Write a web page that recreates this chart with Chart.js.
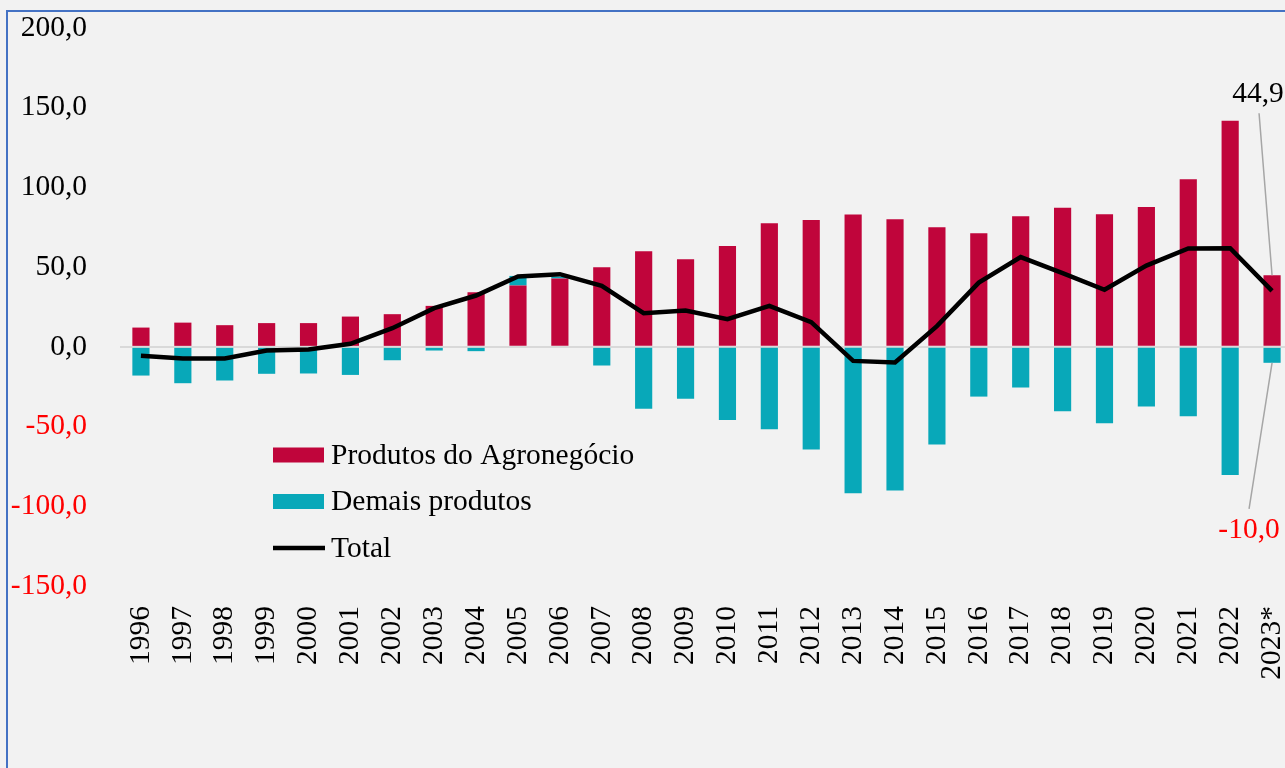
<!DOCTYPE html>
<html>
<head>
<meta charset="utf-8">
<script src="https://cdn.jsdelivr.net/npm/chart.js@4/dist/chart.umd.min.js"></script>
<style>
  html, body { margin: 0; padding: 0; background: #f2f2f2; overflow: hidden; }
  #frame { position: absolute; left: 6px; top: 10px; width: 1400px; height: 900px; border: 2px solid #4472c4; }
  #wrap { position: absolute; left: 0; top: 0; width: 1300px; height: 768px; }
</style>
</head>
<body>
<div id="frame"></div>
<div id="wrap"><canvas id="chart" width="1300" height="768"></canvas></div>
<script>
const years = ['1996','1997','1998','1999','2000','2001','2002','2003','2004','2005','2006','2007','2008','2009',
  '2010','2011','2012','2013','2014','2015','2016','2017','2018','2019','2020','2021','2022','2023*'];
const agro = [12.1,15.2,13.6,14.9,14.9,19.0,20.5,25.7,34.3,38.5,42.9,50.0,60.0,55.0,
  63.2,77.6,79.5,83.0,80.1,75.1,71.3,82.0,87.2,83.2,87.8,105.2,141.8,44.9];
const demais = [-18.0,-22.8,-21.1,-16.9,-16.7,-17.6,-8.4,-2.3,-2.7,6.0,1.2,-11.7,-38.9,-32.6,
  -45.8,-51.7,-64.4,-91.8,-90.1,-61.3,-31.2,-25.5,-40.4,-47.9,-37.4,-43.5,-80.3,-10.0];
const total = [-5.6,-7.3,-7.3,-2.3,-1.7,1.9,11.7,24.3,32.2,44.1,45.6,38.3,21.1,22.8,
  17.4,25.7,15.5,-8.8,-9.8,13.0,40.3,56.3,46.2,35.8,51.0,61.7,61.9,35.1];
const yTicks = [-150, -100, -50, 0, 50, 100, 150, 200];

const FONT = '"Liberation Serif", "DejaVu Serif", serif';
const SIZE = 29.5;
const fmt = v => v.toFixed(1).replace('.', ',');

// legend drawn inside the plot area
const innerLegend = {
  id: 'innerLegend',
  afterDraw(chart) {
    const ctx = chart.ctx;
    ctx.save();
    ctx.font = SIZE + 'px ' + FONT;
    ctx.textBaseline = 'middle';
    chart.data.datasets.forEach((ds, i) => {
      const y = 455 + i * 46.5;
      if (ds.type === 'line') {
        ctx.strokeStyle = ds.borderColor;
        ctx.lineWidth = 4.5;
        ctx.beginPath();
        ctx.moveTo(273, y);
        ctx.lineTo(325, y);
        ctx.stroke();
      } else {
        ctx.fillStyle = ds.backgroundColor;
        ctx.fillRect(273, y - 7.5, 51, 15);
      }
      ctx.fillStyle = '#000';
      ctx.fillText(ds.label, 331, y + 1);
    });
    ctx.restore();
  }
};

// callouts for the last year
const lastLabels = {
  id: 'lastLabels',
  afterDatasetsDraw(chart) {
    const ctx = chart.ctx;
    const last = years.length - 1;
    const red = chart.getDatasetMeta(0).data[last];
    const cyan = chart.getDatasetMeta(1).data[last];
    ctx.save();
    ctx.strokeStyle = '#a6a6a6';
    ctx.lineWidth = 1.5;
    ctx.beginPath();
    ctx.moveTo(red.x - 13, red.y - 162);
    ctx.lineTo(red.x, red.y);
    ctx.moveTo(cyan.x - 23, cyan.y + 146);
    ctx.lineTo(cyan.x, cyan.y);
    ctx.stroke();
    ctx.font = SIZE + 'px ' + FONT;
    ctx.textAlign = 'center';
    ctx.textBaseline = 'middle';
    ctx.fillStyle = '#000';
    ctx.fillText(fmt(agro[last]), red.x - 14, red.y - 181);
    ctx.fillStyle = '#ff0000';
    ctx.fillText(fmt(demais[last]), cyan.x - 23, cyan.y + 167);
    ctx.restore();
  }
};

function noPad(scale) {
  scale.paddingTop = 0;
  scale.paddingBottom = 0;
  scale.paddingLeft = 0;
  scale.paddingRight = 0;
}

new Chart(document.getElementById('chart'), {
  data: {
    labels: years,
    datasets: [
      { type: 'bar', label: 'Produtos do Agronegócio', data: agro, backgroundColor: '#c0053b',
        stack: 'bars', order: 1, barPercentage: 0.41, categoryPercentage: 1 },
      { type: 'bar', label: 'Demais produtos', data: demais, backgroundColor: '#08a8b9',
        stack: 'bars', order: 2, barPercentage: 0.41, categoryPercentage: 1 },
      { type: 'line', label: 'Total', data: total, borderColor: '#000000', borderWidth: 4.5,
        pointRadius: 0, tension: 0, stack: 'line', order: 0 }
    ]
  },
  options: {
    responsive: false,
    animation: false,
    layout: { padding: { top: 28, right: 7, bottom: 0, left: 0 } },
    plugins: { legend: { display: false }, tooltip: { enabled: false } },
    scales: {
      x: {
        stacked: true,
        grid: { display: false },
        border: { display: false },
        ticks: { color: '#000', font: { family: FONT, size: SIZE }, minRotation: 90, maxRotation: 90,
          autoSkip: false, padding: 12 },
        afterFit(scale) { scale.height = 182; noPad(scale); }
      },
      y: {
        stacked: true,
        min: -150,
        max: 200,
        afterBuildTicks(scale) { scale.ticks = yTicks.map(v => ({ value: v })); },
        grid: { drawTicks: false, lineWidth: 2,
          color: c => c.tick && c.tick.value === 0 ? '#d9d9d9' : 'rgba(0,0,0,0)' },
        border: { display: false },
        ticks: { font: { family: FONT, size: SIZE }, padding: 33,
          color: c => c.tick.value < 0 ? '#ff0000' : '#000000',
          callback: v => fmt(v) },
        afterFit(scale) { scale.width = 120; noPad(scale); }
      }
    }
  },
  plugins: [innerLegend, lastLabels]
});
</script>
</body>
</html>
